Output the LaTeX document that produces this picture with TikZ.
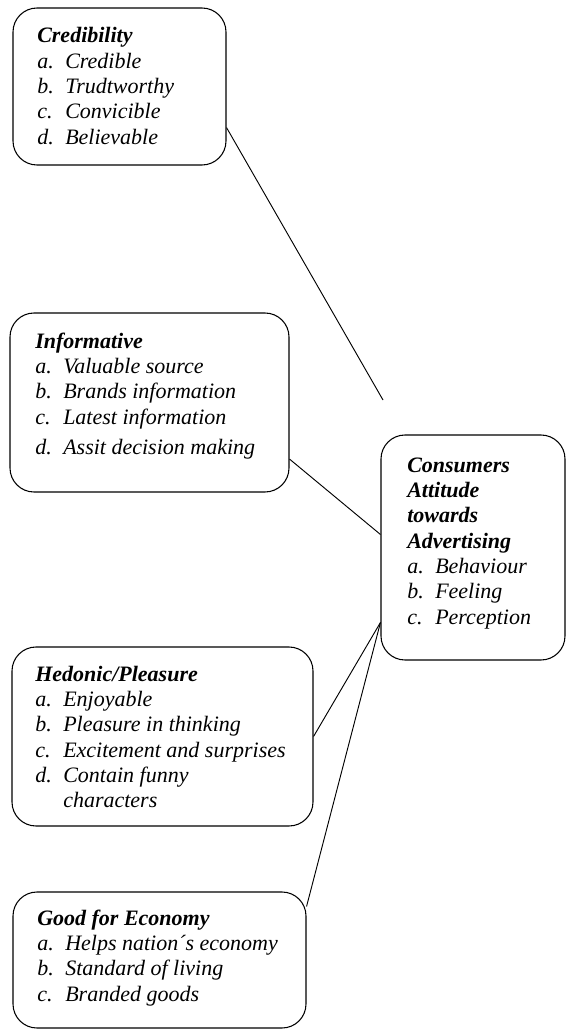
\documentclass[tikz,border=0pt]{standalone}
\usepackage{fontspec}
\setmainfont{Liberation Serif}
\usepackage{tikz}

\begin{document}
\begin{tikzpicture}[x=0.75pt,y=-0.75pt,
  box/.style={draw,line width=0.8pt,rounded corners=18pt,inner sep=0pt},
  txt/.style={anchor=base west,inner sep=0pt,align=left,font=\fontsize{16.5}{19}\selectfont\itshape},
  link/.style={line width=0.7pt}]
\useasboundingbox (0,0) rectangle (566,1030);
% boxes
\node [box,minimum width=213pt*0.75,minimum height=157pt*0.75] (cred) at (119.5,86.5) {};
\node [box,minimum width=279pt*0.75,minimum height=179pt*0.75] (info) at (149.5,402.5) {};
\node [box,minimum width=184pt*0.75,minimum height=225pt*0.75] (cons) at (473,547.5) {};
\node [box,minimum width=301pt*0.75,minimum height=179pt*0.75] (hedo) at (162.5,736.5) {};
\node [box,minimum width=293pt*0.75,minimum height=136pt*0.75] (econ) at (159.5,960) {};
% texts
\node [txt] (credtxt) at (37,43) {\begin{tabular}[t]{@{}p{21pt}@{}l@{}}
\multicolumn{2}{@{}l@{}}{\bfseries Credibility}\\
a. & Credible\\
b. & Trudtworthy\\
c. & Convicible\\
d. & Believable
\end{tabular}};
\node [txt] (infotxt) at (35,348) {\begin{tabular}[t]{@{}p{21pt}@{}l@{}}
\multicolumn{2}{@{}l@{}}{\bfseries Informative}\\
a. & Valuable source\\
b. & Brands information\\
c. & Latest information\\[3.5pt]
d. & Assit decision making
\end{tabular}};
\node [txt] (constxt) at (407,472) {\begin{tabular}[t]{@{}p{21pt}@{}l@{}}
\multicolumn{2}{@{}l@{}}{\bfseries Consumers}\\
\multicolumn{2}{@{}l@{}}{\bfseries Attitude}\\
\multicolumn{2}{@{}l@{}}{\bfseries towards}\\
\multicolumn{2}{@{}l@{}}{\bfseries Advertising}\\
a. & Behaviour\\
b. & Feeling\\
c. & Perception
\end{tabular}};
\node [txt] (hedotxt) at (35,681) {\begin{tabular}[t]{@{}p{21pt}@{}l@{}}
\multicolumn{2}{@{}l@{}}{\bfseries Hedonic/Pleasure}\\
a. & Enjoyable\\
b. & Pleasure in thinking\\
c. & Excitement and surprises\\
d. & Contain funny\\
   & characters
\end{tabular}};
\node [txt] (econtxt) at (37,925) {\begin{tabular}[t]{@{}p{21pt}@{}l@{}}
\multicolumn{2}{@{}l@{}}{\bfseries Good for Economy}\\
a. & Helps nation´s economy\\
b. & Standard of living\\
c. & Branded goods
\end{tabular}};
% connectors
\coordinate (credend) at (383,400);
\draw [link] (cred.-21) -- (credend);
\draw [link] (info.-22) -- (cons.172);
\draw [link] (hedo.east) -- (cons.-141);
\draw [link] (econ.20) -- (cons.-141);
\end{tikzpicture}
\end{document}
